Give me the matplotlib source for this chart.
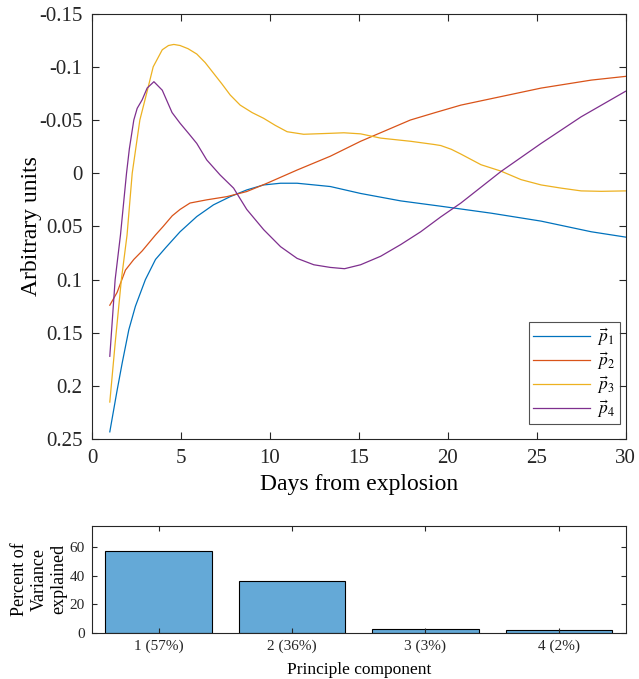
import matplotlib
matplotlib.use('Agg')
import matplotlib.pyplot as plt

# Componentes principales
dias_p1 = [1.0, 1.4, 1.7, 2.07, 2.44, 3.0, 3.57, 4.14, 4.95, 5.89, 6.83, 7.77, 8.7, 9.65,
           10.6, 11.53, 12.5, 13.4, 15.1, 17.36, 19.61, 22.43, 25.25, 28.07, 30.0]
vals_p1 = [0.243, 0.205, 0.178, 0.147, 0.125, 0.100, 0.081, 0.070, 0.055, 0.0407, 0.0297,
           0.022, 0.0157, 0.011, 0.0094, 0.0094, 0.011, 0.0125, 0.019, 0.026, 0.031, 0.0375,
           0.045, 0.055, 0.060]

dias_p2 = [1.0, 1.41, 1.88, 2.35, 2.82, 3.57, 4.0, 4.51, 4.95, 5.51, 6.45, 7.58, 8.7, 9.84,
           11.53, 13.4, 15.1, 16.5, 17.9, 19.3, 20.74, 22.43, 25.25, 28.07, 30.0]
vals_p2 = [0.124, 0.112, 0.091, 0.081, 0.073, 0.058, 0.050, 0.040, 0.034, 0.028, 0.025, 0.022,
           0.0172, 0.0094, -0.003, -0.016, -0.030, -0.040, -0.050, -0.057, -0.064, -0.070,
           -0.080, -0.0875, -0.091]

dias_p3 = [1.0, 1.3, 1.65, 1.97, 2.26, 2.69, 3.1, 3.44, 3.95, 4.3, 4.6, 4.95, 5.4, 5.89, 6.36,
           6.83, 7.3, 7.77, 8.33, 9.0, 9.65, 10.3, 10.97, 11.9, 13.4, 14.16, 15.1, 16.23, 17.92,
           19.24, 19.61, 20.2, 20.74, 21.87, 22.99, 24.12, 25.25, 26.38, 27.5, 28.63, 30.0]
vals_p3 = [0.215, 0.16, 0.10, 0.058, 0.0, -0.05, -0.077, -0.100, -0.116, -0.120, -0.121, -0.120,
           -0.117, -0.112, -0.104, -0.094, -0.084, -0.0735, -0.064, -0.057, -0.0516, -0.045,
           -0.039, -0.0366, -0.0375, -0.038, -0.037, -0.033, -0.030, -0.027, -0.026, -0.0225,
           -0.018, -0.008, -0.002, 0.006, 0.011, 0.014, 0.0166, 0.017, 0.0166]

dias_p4 = [1.0, 1.3, 1.6, 1.94, 2.1, 2.35, 2.54, 2.82, 3.1, 3.48, 3.95, 4.5, 4.95, 5.45, 5.89,
           6.45, 7.2, 7.96, 8.7, 9.65, 10.6, 11.53, 12.47, 13.4, 14.2, 15.1, 16.23, 17.36,
           18.48, 19.61, 20.74, 22.99, 25.25, 27.5, 30.0]
vals_p4 = [0.172, 0.10, 0.058, 0.0, -0.023, -0.050, -0.061, -0.069, -0.080, -0.086, -0.078,
           -0.057, -0.047, -0.037, -0.028, -0.0125, 0.0016, 0.014, 0.034, 0.053, 0.069, 0.080,
           0.086, 0.0885, 0.0897, 0.086, 0.078, 0.067, 0.055, 0.041, 0.028, -0.0016, -0.028,
           -0.053, -0.077]

# Varianza explicada
componentes = ['1 (57%)', '2 (36%)', '3 (3%)', '4 (2%)']
varianza = [57, 36, 3, 2]

y_ticks = [-0.15, -0.1, -0.05, 0, 0.05, 0.1, 0.15, 0.2, 0.25]
y_tick_labels = ['-0.15', '-0.1', '-0.05', '0', '0.05', '0.1', '0.15', '0.2', '0.25']

plt.rcParams['font.family'] = ['Liberation Serif', 'DejaVu Serif']
plt.rcParams['mathtext.fontset'] = 'stix'

gris = '#262626'
colores = ['#0072BD', '#D95319', '#EDB120', '#7E2F8E']

fig = plt.figure(figsize=(6.39, 6.79), dpi=100)

# Panel superior
ax = fig.add_axes([0.144, 0.353, 0.835, 0.627])
series = [(dias_p1, vals_p1), (dias_p2, vals_p2), (dias_p3, vals_p3), (dias_p4, vals_p4)]
for i, (d, v) in enumerate(series):
    ax.plot(d, v, color=colores[i], linewidth=0.9, label=r'$\vec{p}_%d$' % (i + 1))

ax.set_xlim(0, 30)
ax.set_ylim(0.25, -0.15)
ax.set_xticks([0, 5, 10, 15, 20, 25, 30])
ax.set_yticks(y_ticks)
ax.set_yticklabels(y_tick_labels)
ax.tick_params(direction='in', length=5, width=0.8, top=True, right=True,
               labelsize=15, colors=gris, pad=7)
for s in ax.spines.values():
    s.set_color(gris)
    s.set_linewidth(0.8)
ax.set_xlabel('Days from explosion', fontsize=17, color='black', labelpad=4)
ax.set_ylabel('Arbitrary units', fontsize=17, color='black', labelpad=-2)

leg = ax.legend(loc='lower right', bbox_to_anchor=(0.989, 0.036), borderaxespad=0,
                fontsize=12.5, frameon=True, fancybox=False, handlelength=3.3,
                handletextpad=0.4, labelspacing=0.12, borderpad=0.25)
leg.get_frame().set_edgecolor(gris)
leg.get_frame().set_linewidth(0.8)

# Panel inferior
ax2 = fig.add_axes([0.144, 0.068, 0.835, 0.158])
x = [1, 2, 3, 4]
ax2.bar(x, varianza, width=0.8, color='#64a9d7', edgecolor='black', linewidth=0.8)
ax2.set_xlim(0.5, 4.5)
ax2.set_ylim(0, 75)
ax2.set_xticks(x)
ax2.set_xticklabels(componentes)
ax2.set_yticks([0, 20, 40, 60])
ax2.tick_params(direction='in', length=3.5, width=0.8, top=True, right=True,
                labelsize=11, colors=gris, pad=5)
for s in ax2.spines.values():
    s.set_color(gris)
    s.set_linewidth(0.8)
ax2.set_xlabel('Principle component', fontsize=12.5, color='black', labelpad=6)
ax2.set_ylabel('Percent of\nVariance\nexplained', fontsize=13, color='black',
               labelpad=2, linespacing=1.2)

fig.savefig('out.png', dpi=100)
